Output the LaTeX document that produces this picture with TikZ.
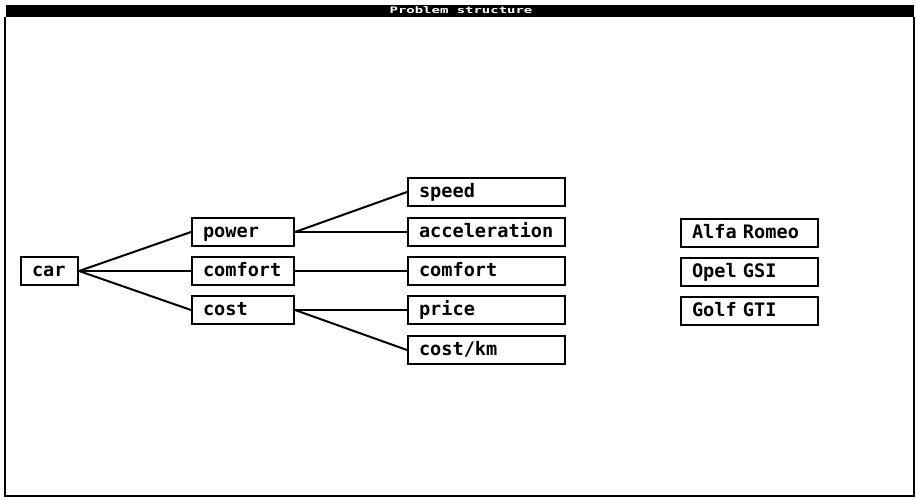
\documentclass[tikz,border=0pt]{standalone}
\usepackage{fontspec}
\newfontfamily\boxfont{DejaVu Sans Mono}[BoldFont={DejaVu Sans Mono Bold}]
\begin{document}
\begin{tikzpicture}[x=1pt,y=-1pt,
  bx/.style={draw=black, line width=2pt, rectangle, anchor=west, inner xsep=11pt, inner ysep=0pt,
    minimum height=28pt, text height=13pt, text depth=3pt, align=left,
    font=\boxfont\bfseries\fontsize{18.6}{20}\selectfont},
  link/.style={line width=2pt, line cap=round}]
\useasboundingbox (0,0) rectangle (916,499);
\fill[white] (0,0) rectangle (916,499);
% window frame and title bar
\fill[black] (6,5) rectangle (914,16.5);
\draw[line width=1.5pt] (5,17) -- (5,496) -- (914,496) -- (914,17);
\node[text=white, font=\boxfont\bfseries\fontsize{9}{10}\selectfont, inner sep=0pt] (title) at (461,10.5) {\scalebox{1.55}[1]{Problem structure}};
% level 0
\node[bx, text width=35pt] (car) at (20,271) {car};
% level 1
\node[bx, text width=80pt] (power) at (191,232) {power};
\node[bx, text width=80pt] (comfort1) at (191,271) {comfort};
\node[bx, text width=80pt] (cost) at (191,310) {cost};
% level 2
\node[bx, text width=135pt] (speed) at (407,192) {speed};
\node[bx, text width=135pt] (accel) at (407,232) {acceleration};
\node[bx, text width=135pt] (comfort2) at (407,271) {comfort};
\node[bx, text width=135pt] (price) at (407,310) {price};
\node[bx, text width=135pt] (costkm) at (407,350) {cost/km};
% alternatives
\node[bx, text width=115pt] (alfa) at (680,233) {Alfa Romeo};
\node[bx, text width=115pt] (opel) at (680,272) {Opel GSI};
\node[bx, text width=115pt] (golf) at (680,311) {Golf GTI};
% connectors
\draw[link] (car.east) -- (power.west);
\draw[link] (car.east) -- (comfort1.west);
\draw[link] (car.east) -- (cost.west);
\draw[link] (power.east) -- (speed.west);
\draw[link] (power.east) -- (accel.west);
\draw[link] (comfort1.east) -- (comfort2.west);
\draw[link] (cost.east) -- (price.west);
\draw[link] (cost.east) -- (costkm.west);
\end{tikzpicture}
\end{document}
